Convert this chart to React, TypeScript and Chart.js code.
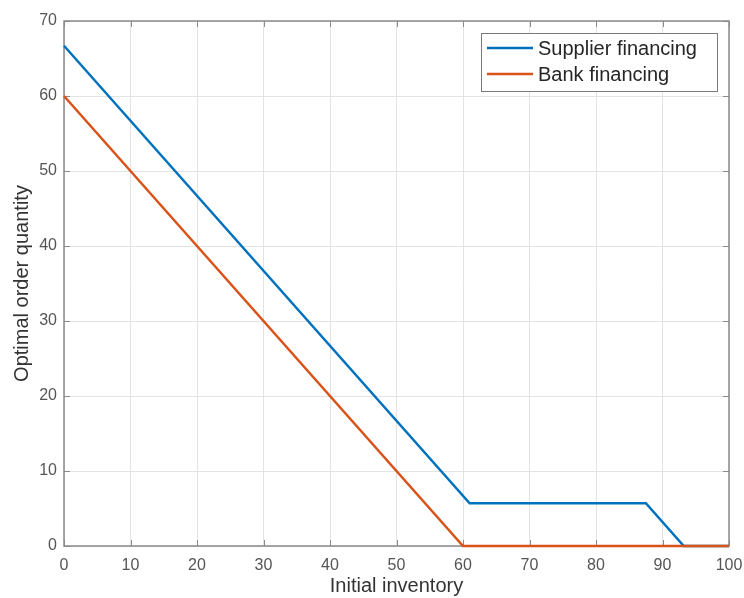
import React, { useEffect, useRef } from "react";
import { Chart, registerables } from "chart.js";

Chart.register(...registerables);

const supplierX = [0, 61, 87.5, 93.2, 100];
const supplierY = [66.7, 5.7, 5.7, 0, 0];
const bankX = [0, 60, 100];
const bankY = [60, 0, 0];
const xTicks = [0, 10, 20, 30, 40, 50, 60, 70, 80, 90, 100];
const yTicks = [0, 10, 20, 30, 40, 50, 60, 70];
const seriesLabels = ["Supplier financing", "Bank financing"];
const seriesColors = ["#0072BD", "#D95319"];

const FONT = "'Liberation Sans', Arial, Helvetica, sans-serif";

const framePlugin = {
  id: "frame",
  beforeDatasetsDraw(chart: any) {
    const { ctx, chartArea: a, scales } = chart;
    ctx.save();
    ctx.strokeStyle = "#8a8a8a";
    ctx.lineWidth = 1;
    const len = 6;
    ctx.beginPath();
    xTicks.forEach((t) => {
      const px = Math.round(scales.x.getPixelForValue(t)) + 0.5;
      ctx.moveTo(px, a.bottom);
      ctx.lineTo(px, a.bottom - len);
      ctx.moveTo(px, a.top);
      ctx.lineTo(px, a.top + len);
    });
    yTicks.forEach((t) => {
      const py = Math.round(scales.y.getPixelForValue(t)) + 0.5;
      ctx.moveTo(a.left, py);
      ctx.lineTo(a.left + len, py);
      ctx.moveTo(a.right, py);
      ctx.lineTo(a.right - len, py);
    });
    ctx.stroke();
    ctx.lineWidth = 1.5;
    ctx.strokeRect(a.left, a.top, a.right - a.left, a.bottom - a.top);
    ctx.restore();
  },
};

const legendPlugin = {
  id: "boxLegend",
  afterDraw(chart: any) {
    const { ctx } = chart;
    const x0 = 481, y0 = 33, w = 236, h = 58;
    ctx.save();
    ctx.fillStyle = "#ffffff";
    ctx.fillRect(x0, y0, w, h);
    ctx.strokeStyle = "#7a7a7a";
    ctx.lineWidth = 1;
    ctx.strokeRect(x0 + 0.5, y0 + 0.5, w, h);
    ctx.font = `20px ${FONT}`;
    ctx.textBaseline = "middle";
    chart.data.datasets.forEach((ds: any, i: number) => {
      const cy = y0 + 15 + i * 26;
      ctx.strokeStyle = ds.borderColor;
      ctx.lineWidth = 2.5;
      ctx.beginPath();
      ctx.moveTo(x0 + 6, cy);
      ctx.lineTo(x0 + 52, cy);
      ctx.stroke();
      ctx.fillStyle = "#262626";
      ctx.fillText(ds.label, x0 + 57, cy + 1);
    });
    ctx.restore();
  },
};

export default function App() {
  const ref = useRef<HTMLCanvasElement>(null);
  useEffect(() => {
    document.body.style.margin = "0";
    const canvas = ref.current!;
    const chart = new Chart(canvas, {
      type: "line",
      data: {
        datasets: [
          {
            label: seriesLabels[0],
            data: supplierX.map((x, i) => ({ x, y: supplierY[i] })),
            borderColor: seriesColors[0],
            borderWidth: 2.5,
            pointRadius: 0,
            fill: false,
            clip: 4,
            order: 1,
          },
          {
            label: seriesLabels[1],
            data: bankX.map((x, i) => ({ x, y: bankY[i] })),
            borderColor: seriesColors[1],
            borderWidth: 2.5,
            pointRadius: 0,
            fill: false,
            clip: 4,
            order: 0,
          },
        ],
      },
      options: {
        animation: false,
        responsive: false,
        layout: { padding: { left: 0, top: 21, right: 15, bottom: 0 } },
        plugins: { legend: { display: false }, tooltip: { enabled: false } },
        scales: {
          x: {
            type: "linear",
            min: 0,
            max: 100,
            afterBuildTicks: (s: any) => {
              s.ticks = xTicks.map((v) => ({ value: v }));
            },
            afterFit: (s: any) => {
              s.height = 52;
              s.paddingLeft = 0;
              s.paddingRight = 0;
            },
            grid: { color: "#e3e3e3", drawTicks: false },
            border: { display: false },
            ticks: {
              padding: 10,
              color: "#555555",
              font: { family: FONT, size: 16 },
              maxRotation: 0,
            },
            title: {
              display: true,
              text: "Initial inventory",
              color: "#333333",
              font: { family: FONT, size: 20 },
              padding: { top: 0, bottom: 0 },
            },
          },
          y: {
            type: "linear",
            min: 0,
            max: 70,
            afterBuildTicks: (s: any) => {
              s.ticks = yTicks.map((v) => ({ value: v }));
            },
            afterFit: (s: any) => {
              s.width = 64;
              s.paddingTop = 0;
              s.paddingBottom = 0;
            },
            grid: { color: "#e3e3e3", drawTicks: false },
            border: { display: false },
            ticks: {
              padding: 7,
              color: "#555555",
              font: { family: FONT, size: 16 },
            },
            title: {
              display: true,
              text: "Optimal order quantity",
              color: "#333333",
              font: { family: FONT, size: 20 },
              padding: { top: 10, bottom: 0 },
            },
          },
        },
      },
      plugins: [framePlugin, legendPlugin],
    });
    return () => chart.destroy();
  }, []);
  return <canvas ref={ref} width={744} height={598} style={{ display: "block" }} />;
}
